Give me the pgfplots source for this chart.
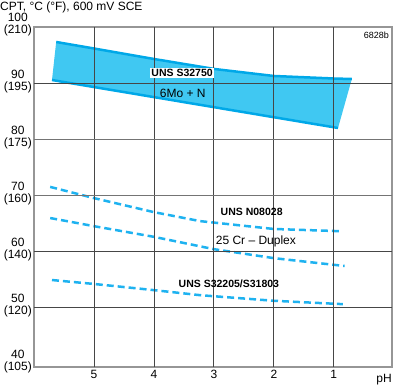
\documentclass[border=0pt]{standalone}
\usepackage{fontspec}
\setmainfont{Liberation Sans}
\usepackage{pgfplots}
\pgfplotsset{compat=1.18}
\definecolor{bandfill}{RGB}{64,200,242}
\definecolor{bandedge}{RGB}{0,168,232}
\definecolor{dashc}{RGB}{30,178,240}
\definecolor{gridc}{RGB}{70,70,70}
\definecolor{framec}{RGB}{150,150,150}
\begin{document}
\begin{tikzpicture}[x=1pt,y=1pt]
\useasboundingbox (0,0) rectangle (394,387);
\begin{axis}[
  at={(34pt,20pt)}, anchor=south west,
  scale only axis, width=358pt, height=340pt,
  x dir=reverse, xmin=0.03, xmax=6, ymin=39.4, ymax=100,
  xtick={1,2,3,4,5}, ytick={40,50,60,70,80,90,100},
  yticklabels={{40\\(105)},{50\\(120)},{60\\(140)},{70\\(160)},{80\\(175)},{90\\(195)},{100\\(210)}},
  yticklabel style={align=center, font=\fontsize{12}{12}\selectfont, inner sep=2pt, yshift=2pt},
  xticklabel style={font=\fontsize{12}{12}\selectfont},
  /pgf/number format/assume math mode=true,
  major tick length=0pt,
  axis line style={framec, line width=1.3pt},
]
% band
\addplot[fill=bandfill, draw=none] coordinates {
 (5.63,97.33) (5,96.17) (4,94.3) (2.98,92.5) (2,91.27) (1,90.82) (0.70,90.73)
 (0.93,82.0) (5.70,90.55)} -- cycle;
\addplot[bandedge, line width=2.5pt] coordinates {
 (5.63,97.33) (5,96.17) (4,94.3) (2.98,92.5) (2,91.27) (1,90.82) (0.70,90.73)};
\addplot[bandedge, line width=2.5pt] coordinates {(5.70,90.55) (0.93,82.0)};
% dashed
\addplot[dashc, line width=2.5pt, dash pattern=on 7pt off 4pt] coordinates {
 (5.73,71.5) (5,69.5) (4,67.0) (3.23,65.4) (2,64.0) (0.88,63.6)};
\addplot[dashc, line width=2.5pt, dash pattern=on 7pt off 4pt] coordinates {
 (5.73,65.95) (5,64.5) (4,62.6) (3,60.4) (2,58.8) (0.82,57.4)};
\addplot[dashc, line width=2.5pt, dash pattern=on 7pt off 4pt] coordinates {
 (5.70,54.9) (5,54.2) (4,53.1) (3.23,52.2) (2,51.2) (0.85,50.6)};
% grid lines (on top of the band)
\draw[gridc, line width=0.8pt] (axis cs:1,39.4) -- (axis cs:1,100);
\draw[gridc, line width=0.8pt] (axis cs:2,39.4) -- (axis cs:2,100);
\draw[gridc, line width=0.8pt] (axis cs:3,39.4) -- (axis cs:3,100);
\draw[gridc, line width=0.8pt] (axis cs:4,39.4) -- (axis cs:4,100);
\draw[gridc, line width=0.8pt] (axis cs:5,39.4) -- (axis cs:5,100);
\draw[gridc, line width=0.8pt] (axis cs:6,50) -- (axis cs:0.03,50);
\draw[gridc, line width=0.8pt] (axis cs:6,60) -- (axis cs:0.03,60);
\draw[gridc!75, line width=0.8pt] (axis cs:6,70) -- (axis cs:0.03,70);
\draw[gridc!75, line width=0.8pt] (axis cs:6,80) -- (axis cs:0.03,80);
\draw[gridc, line width=0.8pt] (axis cs:6,90) -- (axis cs:0.03,90);
\coordinate (l1) at (axis cs:3.53,91.8);
\coordinate (l2) at (axis cs:3.52,88.2);
\coordinate (l3) at (axis cs:2.37,67.0);
\coordinate (l4) at (axis cs:2.30,61.7);
\coordinate (l5) at (axis cs:2.75,54.2);
\end{axis}
\node[fill=white, inner sep=1.5pt, font=\fontsize{10.5}{10.5}\selectfont\bfseries] at (l1) {UNS S32750};
\node[font=\fontsize{12}{12}\selectfont] at (l2) {6Mo + N};
\node[font=\fontsize{10.5}{10.5}\selectfont\bfseries] at (l3) {UNS N08028};
\node[font=\fontsize{12}{12}\selectfont] at (l4) {25 Cr -- Duplex};
\node[font=\fontsize{10.5}{10.5}\selectfont\bfseries] at (l5) {UNS S32205/S31803};
\node[anchor=east, inner sep=0pt, font=\fontsize{12}{12}\selectfont] at (392,7) {pH};
\node[anchor=west, inner sep=0pt, font=\fontsize{12}{12}\selectfont] at (0,380) {CPT, °C (°F), 600 mV SCE};
\node[anchor=east, inner sep=0pt, font=\fontsize{9}{9}\selectfont] at (389,352) {6828b};
\end{tikzpicture}
\end{document}
